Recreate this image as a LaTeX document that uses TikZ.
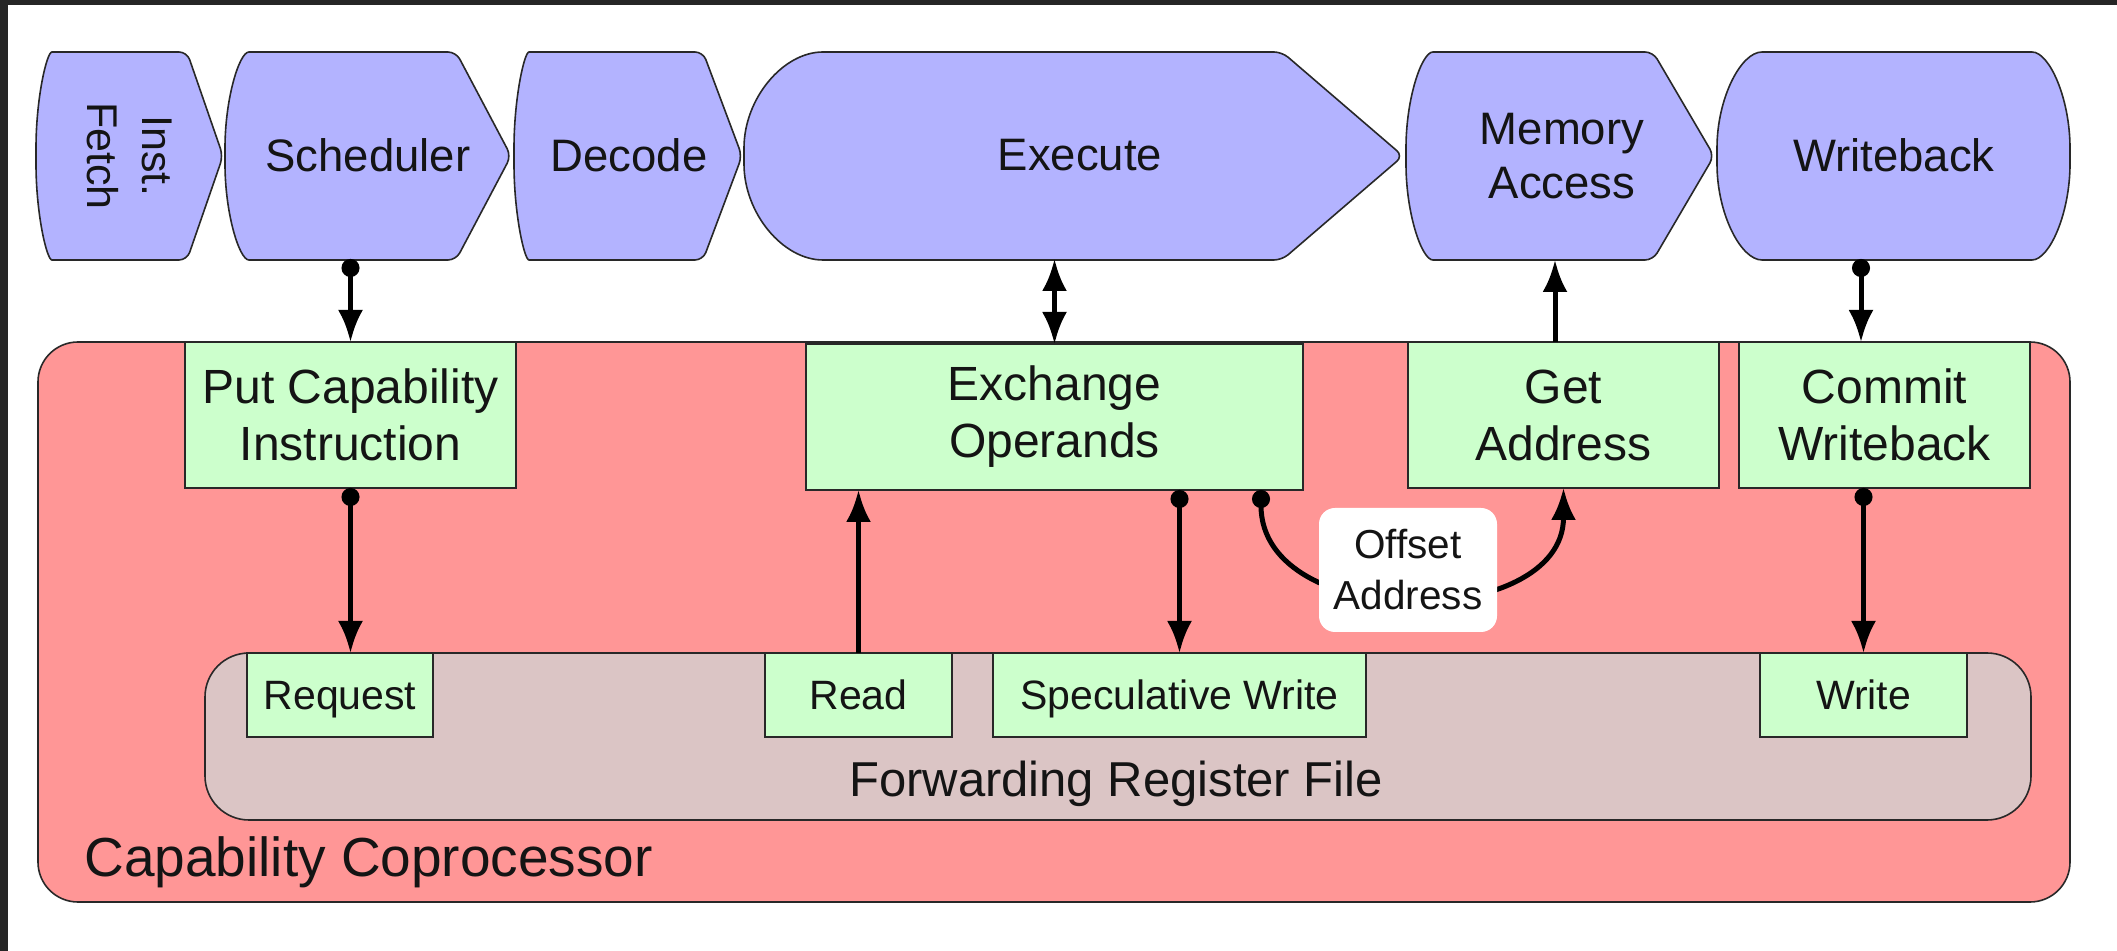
\documentclass[tikz,border=0pt]{standalone}
\usepackage{fontspec}
\setmainfont{Liberation Sans}
\usetikzlibrary{arrows.meta,calc}
\definecolor{stageblue}{RGB}{179,179,255}
\definecolor{boxgreen}{RGB}{204,255,204}
\definecolor{copred}{RGB}{255,150,150}
\definecolor{rfgray}{RGB}{219,197,197}
\definecolor{framedark}{RGB}{38,38,38}
\definecolor{edgecol}{RGB}{40,40,40}
\definecolor{ink}{RGB}{20,20,20}
\begin{document}
\begin{tikzpicture}[x=0.5pt,y=-0.5pt,
  stage/.style={fill=stageblue, draw=edgecol, line width=0.8pt, rounded corners=4pt},
  stagetext/.style={font=\fontsize{22.75}{27}\selectfont, text=ink, minimum height=104pt, inner sep=0pt, outer sep=0pt, align=center},
  gbox/.style={draw=edgecol, fill=boxgreen, line width=0.8pt, inner sep=0pt, outer sep=0pt, text=ink, align=center},
  bigbox/.style={gbox, minimum height=73pt, font=\fontsize{24}{28.5}\selectfont},
  smallbox/.style={gbox, minimum height=42pt, text height=15pt, text depth=0pt, font=\fontsize{20.5}{24}\selectfont},
  arr/.style={line width=2.5pt, -{Latex[length=16pt,width=12.5pt]}},
  dotarr/.style={line width=2.5pt, {Circle[length=9pt]}-{Latex[length=16pt,width=12.5pt]}},
  darr/.style={line width=2.5pt, {Latex[length=16pt,width=12.5pt]}-{Latex[length=16pt,width=12.5pt]}},
]
\useasboundingbox (0,0) rectangle (2117,951);
\fill[white] (0,0) rectangle (2117,951);
\fill[framedark] (0,0) rectangle (2117,5);
\fill[framedark] (0,0) rectangle (8,951);

% stage shapes
\filldraw[stage] (120,52) -- (187,52) -- (223,156) -- (187,260) -- (60,260)
  .. controls (46.7,260) and (36,213.4) .. (36,156)
  .. controls (36,98.6) and (46.7,52) .. (60,52) -- cycle;
\filldraw[stage] (350,52) -- (456,52) -- (511,156) -- (456,260) -- (257,260)
  .. controls (239.3,260) and (225,213.4) .. (225,156)
  .. controls (225,98.6) and (239.3,52) .. (257,52) -- cycle;
\filldraw[stage] (620,52) -- (703,52) -- (742,156) -- (703,260) -- (537,260)
  .. controls (524.3,260) and (514,213.4) .. (514,156)
  .. controls (514,98.6) and (524.3,52) .. (537,52) -- cycle;
\filldraw[stage] (1050,52) -- (1282,52) -- (1403,156) -- (1282,260) -- (831,260)
  .. controls (783,260) and (744,213.4) .. (744,156)
  .. controls (744,98.6) and (783,52) .. (831,52) -- cycle;
\filldraw[stage] (1550,52) -- (1653,52) -- (1714,156) -- (1653,260) -- (1441,260)
  .. controls (1421.7,260) and (1406,213.4) .. (1406,156)
  .. controls (1406,98.6) and (1421.7,52) .. (1441,52) -- cycle;
\filldraw[stage] (1900,52) -- (2024,52)
  .. controls (2049.4,52) and (2070,98.6) .. (2070,156)
  .. controls (2070,213.4) and (2049.4,260) .. (2024,260) -- (1770,260)
  .. controls (1740.7,260) and (1717,213.4) .. (1717,156)
  .. controls (1717,98.6) and (1740.7,52) .. (1770,52) -- cycle;

\node[stagetext, rotate=-90, minimum height=0pt, font=\fontsize{21.5}{27.5}\selectfont] (fetch) at (130,156) {Inst.\\Fetch};
\node[stagetext] (sched) at (368,155) {Scheduler};
\node[stagetext] (decode) at (629,155) {Decode};
\node[stagetext] (exec) at (1080,155) {Execute};
\node[stagetext] (mem) at (1562,156) {Memory\\Access};
\node[stagetext] (wb) at (1894,155) {Writeback};

% coprocessor
\node[draw=edgecol, fill=copred, line width=0.8pt, rounded corners=20pt, minimum width=1016pt, minimum height=280pt, inner sep=0pt, outer sep=0pt] (cop) at (1054,622) {};
\node[anchor=base west, inner sep=0pt, text=ink, font=\fontsize{27.5}{33}\selectfont] (coplabel) at (84,877) {Capability Coprocessor};

\node[draw=edgecol, fill=rfgray, line width=0.8pt, rounded corners=22pt, minimum width=913pt, minimum height=83.5pt, inner sep=0pt, outer sep=0pt] (frf) at (1118,736.5) {};
\node[anchor=base, inner sep=0pt, text=ink, font=\fontsize{24.5}{29}\selectfont] (frflabel) at (1116,797) {Forwarding Register File};

\node[bigbox, minimum width=165.5pt] (putcap) at (350.5,415) {Put Capability\\Instruction};
\node[bigbox, minimum width=248.5pt] (exch) at (1054.5,417) {Exchange\\Operands};
\node[bigbox, minimum width=155.5pt] (getaddr) at (1563.5,415) {Get\\Address};
\node[bigbox, minimum width=145.5pt] (commit) at (1884.5,415) {Commit\\Writeback};

\node[smallbox, minimum width=93pt] (request) at (340,695) {Request};
\node[smallbox, minimum width=93.5pt] (read) at (858.5,695) {Read};
\node[smallbox, minimum width=186.5pt] (spec) at (1179.5,695) {Speculative Write};
\node[smallbox, minimum width=103.5pt] (write) at (1863.5,695) {Write};

% connectors
\draw[dotarr] (sched.south -| putcap.north) -- (putcap.north);
\draw[darr] (exec.south -| exch.north) -- (exch.north);
\coordinate (ga) at ([xshift=-4.25pt]getaddr.north);
\draw[arr] (ga) -- (ga |- mem.south);
\coordinate (wbx) at ([xshift=-11.75pt]commit.north);
\draw[dotarr] (wbx |- wb.south) -- (wbx);
\draw[dotarr] (putcap.south) -- (putcap.south |- request.north);
\draw[arr] (read.north) -- (read.north |- exch.south);
\draw[dotarr] (spec.north |- exch.south) -- (spec.north);
\draw[dotarr] (write.north |- commit.south) -- (write.north);
\coordinate (offs) at ([xshift=103.25pt]exch.south);
\draw[dotarr] (offs) .. controls ($(offs)+(0,143)$) and ($(getaddr.south)+(0,143)$) .. (getaddr.south);
\node[fill=white, rounded corners=8pt, minimum width=89pt, minimum height=62pt, inner sep=0pt, text=ink, align=center, font=\fontsize{20.25}{25.5}\selectfont] (offlabel) at (1408,570) {Offset\\Address};
\end{tikzpicture}
\end{document}
